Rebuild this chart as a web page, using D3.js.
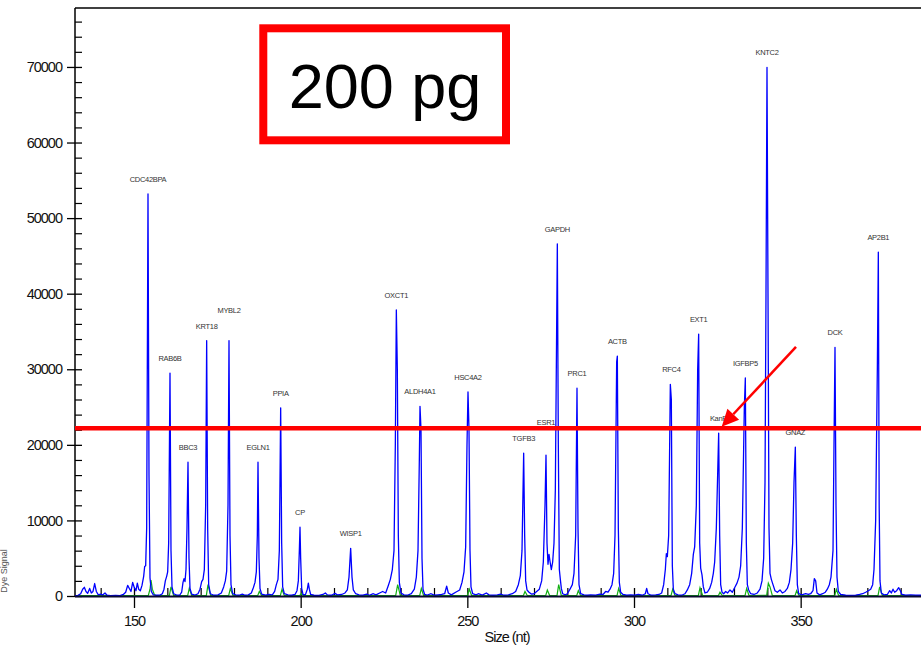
<!DOCTYPE html>
<html>
<head>
<meta charset="utf-8">
<script src="https://cdn.jsdelivr.net/npm/d3@7"></script>
<style>
  body { margin: 0; background: #fff; }
  svg { display: block; font-family: "Liberation Sans", Arial, sans-serif; }
</style>
</head>
<body>
<div id="chart"></div>
<script>
// peak names, size (nt) and height
var peakNames = ["CDC42BPA","RAB6B","BBC3","KRT18","MYBL2","EGLN1","PPIA","CP","WISP1","OXCT1","ALDH4A1","HSC4A2",
  "TGFB3","ESR1","GAPDH","PRC1","ACTB","RFC4","EXT1","KanR","IGFBP5","KNTC2","GNAZ","DCK","AP2B1"];
var peakSizes = [154.2,160.8,166.2,171.8,178.5,187.2,194.0,199.8,215.0,228.7,235.8,250.2,
  266.9,273.6,277.0,282.9,295.0,311.2,319.4,325.4,333.4,339.9,348.4,360.3,373.3];
var peakHeights = [53200,29500,17700,33800,33800,17700,24900,9100,6300,37850,25100,27000,
  18900,18650,46600,27500,31750,28000,34650,21550,28850,69950,19700,32900,45500];

// blue dye trace [size, signal]
var blueTrace = [
  [130,60],[132.3,60],[133.2,90],[134.0,300],[134.6,900],[135.1,1150],[135.6,600],[136.1,350],[136.7,1000],[137.2,400],
  [137.7,600],[138.2,1650],[138.7,600],[139.3,150],[140.0,250],[140.6,120],[141.3,400],[141.9,100],[143.0,60],
  [144.5,90],[145.8,60],[146.8,200],[147.5,500],[148.1,1400],[148.6,1000],[149.1,600],[149.6,1800],[150.1,1100],
  [150.6,700],[151.0,1700],[151.4,900],[151.9,700],[152.4,1400],[152.9,2600],[153.2,3900],[153.5,4000],[153.8,9000],
  [154.2,53200],[154.5,16000],[154.8,2400],[155.2,600],[155.8,150],[156.8,100],[157.8,120],[158.5,300],[159.0,900],
  [159.4,2000],[159.8,2600],[160.1,3200],[160.4,7000],[160.8,29500],[161.1,6000],[161.4,1200],[161.9,300],
  [162.8,120],[163.7,100],[164.3,500],[164.7,1800],[165.0,2300],[165.3,1900],[165.6,3500],[165.9,9000],[166.2,17700],
  [166.5,5000],[166.8,1000],[167.3,250],[168.3,120],[169.2,300],[169.8,900],[170.3,1900],[170.7,2200],[171.1,3500],
  [171.5,12000],[171.8,33800],[172.1,9000],[172.4,1500],[172.9,300],[174.0,100],[175.2,150],[176.2,400],[176.9,1200],
  [177.4,2000],[177.8,3300],[178.2,12000],[178.5,33800],[178.8,8000],[179.1,1500],[179.6,300],[180.5,150],
  [181.5,100],[182.5,250],[183.3,100],[184.3,150],[185.2,400],[185.8,1100],[186.3,1800],[186.7,3200],[187.0,8000],
  [187.2,17700],[187.5,5000],[187.8,1000],[188.3,250],[189.5,100],[190.5,200],[191.5,150],[192.2,600],[192.7,1500],
  [193.2,2200],[193.6,6000],[194.0,24900],[194.3,7000],[194.6,1200],[195.1,300],[196.2,150],[197.3,100],[198.3,200],
  [198.9,700],[199.3,2000],[199.6,6000],[199.8,9100],[200.0,5000],[200.3,1000],[200.7,200],[201.4,150],[202.0,900],
  [202.3,1700],[202.6,900],[203.0,200],[204.0,100],[205.5,80],[206.7,200],[207.4,400],[208.0,150],[209.3,100],
  [210.3,350],[211.0,150],[212.3,200],[213.3,400],[214.0,800],[214.5,2500],[215.0,6300],[215.4,2500],[215.8,800],
  [216.5,300],[217.5,150],[218.7,100],[219.8,250],[220.6,100],[221.8,300],[222.6,150],[223.7,400],[224.6,600],
  [225.5,400],[226.3,1400],[226.9,2200],[227.5,3500],[228.0,6000],[228.4,20000],[228.7,37850],[229.0,30000],
  [229.3,8000],[229.6,1800],[230.1,400],[231.0,150],[232.0,100],[233.2,300],[234.1,900],[234.7,2500],[235.2,6000],
  [235.6,18000],[235.8,25100],[236.1,22000],[236.4,5000],[236.7,900],[237.2,200],[238.0,120],[239.0,300],[240.2,100],
  [241.2,150],[242.3,200],[243.2,300],[243.8,1300],[244.3,400],[245.2,150],[246.5,500],[247.7,800],[248.4,1800],
  [249.0,3200],[249.5,6500],[249.9,20000],[250.2,27000],[250.5,22000],[250.8,6000],[251.1,1200],[251.6,300],
  [252.6,150],[253.3,300],[254.5,120],[255.7,400],[256.5,150],[257.7,100],[259.0,150],[260.0,250],[261.0,100],
  [262.3,150],[263.5,300],[264.5,600],[265.3,1500],[265.9,2700],[266.4,6000],[266.9,18900],[267.2,8000],[267.5,2000],
  [267.9,800],[268.5,500],[269.2,250],[270.0,300],[270.8,600],[271.6,900],[272.3,2000],[272.8,4500],[273.3,12000],
  [273.6,18650],[273.9,7000],[274.2,4200],[274.5,5500],[274.8,4600],[275.2,3500],[275.6,4500],[276.0,7000],
  [276.4,14000],[277.0,46600],[277.3,20000],[277.6,3500],[277.9,2200],[278.2,1000],[278.6,300],[279.4,150],
  [280.0,300],[280.8,900],[281.5,1500],[282.0,3000],[282.5,8000],[282.9,27500],[283.2,9000],[283.5,1500],[284.0,300],
  [285.0,150],[286.0,100],[287.0,150],[288.5,100],[289.8,250],[290.7,200],[291.5,600],[292.2,500],[292.8,900],
  [293.4,1500],[293.9,3000],[294.3,8000],[294.8,31000],[295.0,31750],[295.3,9000],[295.6,1800],[296.0,500],
  [296.7,200],[297.8,100],[299.0,150],[300.2,100],[301.3,200],[302.5,100],[303.4,300],[303.8,1000],[304.2,300],
  [305.2,100],[306.5,150],[307.5,200],[308.3,400],[308.9,1500],[309.4,3500],[309.7,5600],[310.0,5200],[310.4,8000],
  [310.9,28000],[311.2,26000],[311.5,4000],[311.8,900],[312.3,300],[313.2,150],[314.3,100],[315.3,300],[316.0,800],
  [316.7,1500],[317.3,3000],[317.8,5500],[318.2,6500],[318.7,12000],[319.1,30000],[319.4,34650],[319.7,7000],
  [320.0,3700],[320.4,2800],[320.8,1200],[321.3,400],[322.0,500],[322.7,1000],[323.3,1800],[323.8,3000],[324.2,4500],
  [324.7,9000],[325.4,21550],[325.7,8000],[326.0,1500],[326.4,500],[326.9,300],[327.5,600],[328.1,400],[328.8,800],
  [329.5,500],[330.3,1200],[330.9,1700],[331.5,2500],[332.0,4000],[332.5,9000],[333.1,25000],[333.4,28850],
  [333.7,7000],[334.0,1500],[334.4,800],[335.0,300],[336.0,200],[337.0,400],[337.8,900],[338.4,2000],[338.9,5000],
  [339.3,15000],[339.6,40000],[339.9,69950],[340.2,40000],[340.5,9000],[340.8,3000],[341.2,2200],[341.7,1500],
  [342.3,700],[343.0,500],[343.8,800],[344.5,400],[345.3,600],[346.0,1000],[346.6,1800],[347.1,3500],[347.6,7000],
  [348.0,15000],[348.4,19700],[348.7,8000],[349.0,1500],[349.4,300],[350.3,150],[351.5,300],[352.3,200],[353.0,300],
  [353.7,700],[354.1,2300],[354.5,2000],[354.9,400],[355.7,150],[356.6,300],[357.4,500],[358.0,900],[358.6,1500],
  [359.1,2500],[359.7,6000],[360.0,20000],[360.3,32900],[360.6,12000],[360.9,2500],[361.3,600],[362.0,200],
  [363.5,100],[365.0,80],[366.5,100],[367.7,200],[368.6,300],[369.5,500],[370.3,700],[371.0,900],[371.6,1500],
  [372.0,3500],[372.5,10000],[373.0,30000],[373.3,45500],[373.55,12000],[373.8,2000],[374.2,400],[375.0,150],
  [376.0,200],[376.7,700],[377.2,400],[377.7,900],[378.2,500],[378.8,700],[379.4,1100],[379.9,700],[380.4,200],
  [381.5,100],[383.0,150],[384.5,100],[386.5,100],[392,80]
];

// green dye trace [size, signal]
var greenTrace = [
  [130,40],[150.0,40],[154.3,80],[154.8,900],[155.1,2100],[155.5,900],[156.1,200],[156.7,40],[160.6,60],[161.1,1200],[161.9,60],
  [166.1,60],[166.6,1050],[167.3,60],[171.7,60],[172.2,1500],[173.0,60],[178.4,60],[178.9,1000],[179.7,60],
  [187.1,40],[187.6,600],[188.3,40],[193.9,60],[194.4,900],[195.1,40],[199.7,40],[200.2,300],[200.8,40],
  [228.5,60],[229.1,1500],[229.9,60],[235.7,60],[236.2,1000],[236.9,40],[250.0,60],[250.6,900],[251.3,40],
  [266.8,40],[267.3,600],[268.0,40],[273.5,60],[274.0,800],[274.7,60],[276.9,60],[277.4,1500],[278.2,60],
  [282.8,40],[283.3,700],[284.0,40],[294.9,60],[295.4,1000],[296.1,40],[311.1,60],[311.6,900],[312.3,40],
  [319.3,60],[319.8,1100],[320.6,60],[325.3,40],[325.8,500],[326.5,40],[333.3,60],[333.8,1000],[334.5,60],
  [339.8,80],[340.3,1700],[340.8,1200],[341.5,60],[348.3,40],[348.8,700],[349.5,40],[360.2,60],[360.7,900],
  [361.4,40],[373.2,60],[373.7,1200],[374.5,40],[392,40]
];

var yMajorTicks = [0,10000,20000,30000,40000,50000,60000,70000];
var xMajorTicks = [150,200,250,300,350];
var thresholdLevel = 22200;
var arrowFrom = [348.6, 32950], arrowTo = [326.3, 22400];

var W = 921, H = 649;
var svg = d3.select("#chart").append("svg").attr("width", W).attr("height", H);

var x = d3.scaleLinear().domain([132.3, 390.3]).range([75, 935]);
var y = d3.scaleLinear().domain([0, 77800]).range([596, 8]);

svg.append("defs").append("clipPath").attr("id", "plotclip")
  .append("rect").attr("x", 75).attr("y", 8).attr("width", W - 75).attr("height", 592);

// top border
svg.append("line").attr("x1", 75).attr("x2", W).attr("y1", 8).attr("y2", 8)
  .style("stroke", "#000").style("stroke-width", 1.5);

// y axis, major ticks crossing the axis
var yMinor = d3.range(2000, 78000, 2000).filter(function(d) { return d % 10000 !== 0; });
var gy = svg.append("g").attr("transform", "translate(75,0)")
  .call(d3.axisLeft(y).tickValues(yMajorTicks).tickSize(8).tickPadding(5).tickFormat(d3.format("d")));
gy.select(".domain").remove();
gy.selectAll(".tick line").attr("x1", 7).style("stroke", "#000").style("stroke-width", 1.3);
gy.selectAll(".tick text").attr("x", -13).style("font-size", "14.5px").style("letter-spacing", "-1px")
  .style("fill", "#111").style("font-family", "Liberation Sans, Arial, sans-serif");
var gym = svg.append("g").attr("transform", "translate(75,0)")
  .call(d3.axisRight(y).tickValues(yMinor).tickSize(7).tickFormat(""));
gym.select(".domain").remove();
gym.selectAll(".tick line").style("stroke", "#000").style("stroke-width", 1.2);
svg.append("line").attr("x1", 75).attr("x2", 75).attr("y1", 8).attr("y2", 597)
  .style("stroke", "#000").style("stroke-width", 1.5);

// x axis
var xMinor = d3.range(140, 391, 10).filter(function(d) { return d % 50 !== 0; });
var gx = svg.append("g").attr("transform", "translate(0,596)")
  .call(d3.axisBottom(x).tickValues(xMajorTicks).tickSize(12).tickPadding(5));
gx.select(".domain").remove();
gx.selectAll(".tick line").attr("y1", -8).style("stroke", "#000").style("stroke-width", 1.3);
gx.selectAll(".tick text").attr("y", 30).attr("dy", 0).style("font-size", "14.5px").style("letter-spacing", "-1px")
  .style("fill", "#111").style("font-family", "Liberation Sans, Arial, sans-serif");
var gxm = svg.append("g").attr("transform", "translate(0,596)")
  .call(d3.axisTop(x).tickValues(xMinor).tickSize(8).tickFormat(""));
gxm.select(".domain").remove();
gxm.selectAll(".tick line").style("stroke", "#000").style("stroke-width", 1.2);

// traces
var line = d3.line().x(function(d) { return x(d[0]); }).y(function(d) { return y(d[1]); });
var plot = svg.append("g").attr("clip-path", "url(#plotclip)");
plot.append("path").datum(greenTrace).attr("d", line)
  .style("fill", "none").style("stroke", "#12b012").style("stroke-width", 1.2);
svg.append("line").attr("x1", 75).attr("x2", W).attr("y1", 596.5).attr("y2", 596.5)
  .style("stroke", "#0a0a30").style("stroke-width", 2.2);
plot.append("path").datum(blueTrace).attr("d", line)
  .style("fill", "none").style("stroke", "#0000ff").style("stroke-width", 1.3)
  .style("stroke-linejoin", "round");

// red threshold line
svg.append("line")
  .attr("x1", 75).attr("x2", W)
  .attr("y1", y(thresholdLevel)).attr("y2", y(thresholdLevel))
  .style("stroke", "#ff0000").style("stroke-width", 4.5);

// peak labels, lifted above a neighbour when they would collide
var placed = [];
peakNames.forEach(function(name, i) {
  var cx = x(peakSizes[i]);
  var by = y(peakHeights[i]) - 12;
  var t = svg.append("text")
    .attr("x", cx).attr("y", by)
    .style("text-anchor", "middle")
    .style("font-size", "7.5px")
    .style("letter-spacing", "-0.3px")
    .style("fill", "#333")
    .text(name);
  var w = t.node().getComputedTextLength();
  var box = { x0: cx - w / 2 - 3, x1: cx + w / 2 + 3, y: by };
  var hit = true;
  while (hit) {
    hit = placed.find(function(p) {
      return box.x0 < p.x1 && box.x1 > p.x0 && Math.abs(box.y - p.y) < 10;
    });
    if (hit) box.y = hit.y - 16;
  }
  t.attr("y", box.y);
  placed.push(box);
});

// axis titles
svg.append("text")
  .attr("x", 507).attr("y", 642)
  .style("text-anchor", "middle")
  .style("font-size", "14.5px")
  .style("letter-spacing", "-1px")
  .style("fill", "#111")
  .text("Size (nt)");

svg.append("text")
  .attr("transform", "translate(6.5,571) rotate(-90)")
  .style("text-anchor", "middle")
  .style("font-size", "9px")
  .style("fill", "#555")
  .text("Dye Signal");

// red arrow
var ax0 = x(arrowFrom[0]), ay0 = y(arrowFrom[1]);
var ax1 = x(arrowTo[0]), ay1 = y(arrowTo[1]);
var ang = Math.atan2(ay1 - ay0, ax1 - ax0);
var headLen = 17, headHalf = 8;
var bx = ax1 - headLen * Math.cos(ang), byy = ay1 - headLen * Math.sin(ang);
svg.append("line")
  .attr("x1", ax0).attr("y1", ay0).attr("x2", bx).attr("y2", byy)
  .style("stroke", "#ff0000").style("stroke-width", 2.5);
svg.append("path")
  .attr("d", "M" + ax1 + "," + ay1 +
    "L" + (bx + headHalf * Math.sin(ang)) + "," + (byy - headHalf * Math.cos(ang)) +
    "L" + (bx - headHalf * Math.sin(ang)) + "," + (byy + headHalf * Math.cos(ang)) + "Z")
  .style("fill", "#ff0000");

svg.append("rect")
  .attr("x", 263.3).attr("y", 28.3).attr("width", 242.7).attr("height", 112)
  .style("fill", "#fff").style("stroke", "#ff0000").style("stroke-width", 8);
svg.append("text")
  .attr("x", 385).attr("y", 108)
  .style("text-anchor", "middle")
  .style("font-size", "63px")
  .style("fill", "#000")
  .text("200 pg");
</script>
</body>
</html>
